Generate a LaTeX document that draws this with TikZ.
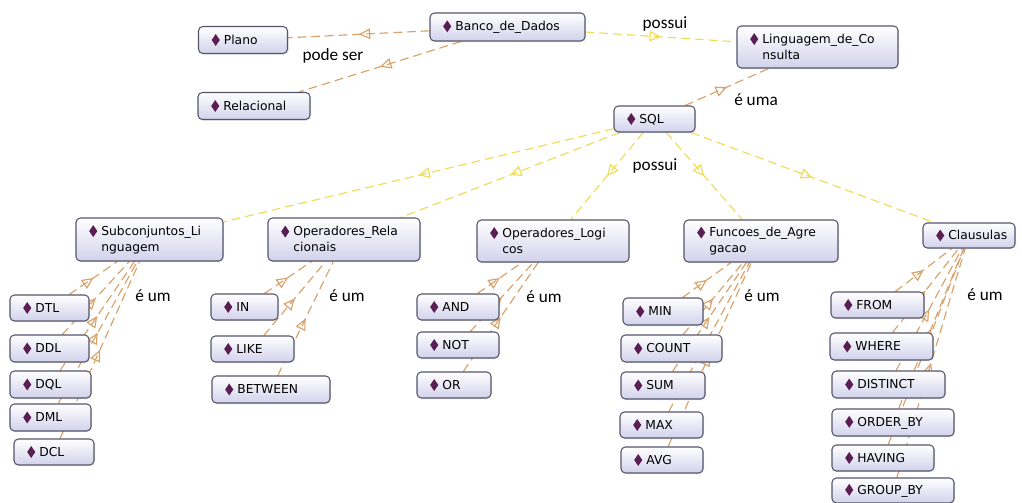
\documentclass[tikz,border=0pt]{standalone}
\usepackage{fontspec}
\usepackage{graphicx}
\usetikzlibrary{arrows.meta,decorations.markings,backgrounds,shadows}
\newfontfamily\boxfont{DejaVu Sans}
\newfontfamily\lblfont{Carlito}
\definecolor{boxline}{HTML}{55556A}
\definecolor{boxfill}{HTML}{D2D2EC}
\definecolor{dmcol}{HTML}{5A1F52}
\definecolor{isacol}{HTML}{D9A068}
\definecolor{hascol}{HTML}{EEDC58}
\newcommand\dm{\raisebox{0.1pt}{\textcolor{dmcol}{\scalebox{0.68}[1]{\rotatebox[origin=c]{45}{\rule{4.8pt}{4.8pt}}}}}}
\newcommand\ind{\phantom{\dm\ }}

\begin{document}
\begin{tikzpicture}[x=0.02cm,y=-0.02cm,
  cls/.style 2 args={draw=boxline,line width=0.6pt,rounded corners=2.5pt,top color=white,bottom color=boxfill,
    drop shadow={opacity=0.18,shadow xshift=0.6pt,shadow yshift=-0.6pt},
    minimum width=#1*0.02cm,minimum height=#2*0.02cm,text width=#1*0.02cm-15pt,inner xsep=7.5pt,
    align=left,font=\boxfont\fontsize{7}{9}\selectfont},
  midtri/.style={postaction={decorate,decoration={markings,
    mark=at position 0.5 with {\arrow[solid]{Triangle[open,length=6.5pt,width=6pt]}}}}},
  isa/.style={draw=isacol,line width=0.65pt,dash pattern=on 5pt off 2.8pt,midtri},
  has/.style={draw=hascol,line width=0.65pt,dash pattern=on 5pt off 2.8pt,midtri},
  lbl/.style={font=\lblfont\fontsize{9.8}{11}\selectfont}]
\useasboundingbox (0,0) rectangle (1022,503);

% top of the graph
\node[cls={155}{28}] (banco) at (507.5,27) {\dm\ Banco\_de\_Dados};
\node[cls={89}{27}] (plano) at (243,40) {\dm\ Plano};
\node[cls={112}{27}] (relacional) at (254,106) {\dm\ Relacional};
\node[cls={161}{42}] (linguagem) at (817.5,47) {\dm\ Linguagem\_de\_Co\\\ind nsulta};
\node[cls={81}{26}] (sql) at (654.5,119) {\dm\ SQL};

% groups below SQL
\node[cls={147}{43}] (subconj) at (149.5,239.5) {\dm\ Subconjuntos\_Li\\\ind nguagem};
\node[cls={152}{43}] (oprel) at (344,239.5) {\dm\ Operadores\_Rela\\\ind cionais};
\node[cls={152}{42}] (oplog) at (553,241) {\dm\ Operadores\_Logi\\\ind cos};
\node[cls={154}{42}] (funcoes) at (761,241) {\dm\ Funcoes\_de\_Agre\\\ind gacao};
\node[cls={92}{25}] (clausulas) at (969,235.5) {\mbox{\dm\ Clausulas}};

% leaves
\node[cls={79}{26}] (dtl) at (49.5,308) {\dm\ DTL};
\node[cls={79}{27}] (ddl) at (49.5,348.5) {\dm\ DDL};
\node[cls={81}{27}] (dql) at (50.5,384.5) {\dm\ DQL};
\node[cls={81}{27}] (dml) at (50.5,417.5) {\dm\ DML};
\node[cls={80}{26}] (dcl) at (54,452) {\dm\ DCL};

\node[cls={67}{26}] (in) at (244.5,307) {\dm\ IN};
\node[cls={83}{26}] (like) at (252.5,349) {\dm\ LIKE};
\node[cls={118}{27}] (between) at (271,389.5) {\dm\ BETWEEN};

\node[cls={82}{26}] (and) at (458,307) {\dm\ AND};
\node[cls={82}{26}] (not) at (458,345) {\dm\ NOT};
\node[cls={74}{26}] (or) at (454,385) {\dm\ OR};

\node[cls={80}{27}] (min) at (663,311.5) {\dm\ MIN};
\node[cls={101}{27}] (count) at (671.5,348.5) {\dm\ COUNT};
\node[cls={84}{27}] (sum) at (663,385.5) {\dm\ SUM};
\node[cls={83}{26}] (max) at (661.5,425) {\dm\ MAX};
\node[cls={82}{26}] (avg) at (662,460) {\dm\ AVG};

\node[cls={93}{26}] (from) at (877.5,305) {\dm\ FROM};
\node[cls={103}{27}] (where) at (881.5,346.5) {\dm\ WHERE};
\node[cls={113}{27}] (distinct) at (888.5,384.5) {\dm\ DISTINCT};
\node[cls={122}{27}] (orderby) at (893,422.5) {\dm\ ORDER\_BY};
\node[cls={102}{26}] (having) at (883,458) {\dm\ HAVING};
\node[cls={122}{24}] (groupby) at (893,490.5) {\dm\ GROUP\_BY};

% relation labels
\node[lbl] (podeser) at (333,56) {pode ser};
\node[lbl] (possuitop) at (665,24) {possui};
\node[lbl] (euma) at (756,100) {é uma};
\node[lbl] (possuisql) at (655,166) {possui};
\node[lbl] (eumsub) at (153,296) {é um};
\node[lbl] (eumrel) at (347,296) {é um};
\node[lbl] (eumlog) at (544,297) {é um};
\node[lbl] (eumfun) at (762,296) {é um};
\node[lbl] (eumcla) at (985,295) {é um};

\begin{scope}[on background layer]
\draw[isa] (banco) -- (plano);
\draw[isa] (banco) -- (relacional);
\draw[has] (banco) -- (linguagem);
\draw[isa] (sql) -- (linguagem);
\foreach \g in {subconj,oprel,oplog,funcoes,clausulas}
  \draw[has] (sql) -- (\g);
\foreach \c in {dtl,ddl,dql,dml,dcl}
  \draw[isa] (\c) -- (subconj);
\foreach \c in {in,like,between}
  \draw[isa] (\c) -- (oprel);
\foreach \c in {and,not,or}
  \draw[isa] (\c) -- (oplog);
\foreach \c in {min,count,sum,max,avg}
  \draw[isa] (\c) -- (funcoes);
\foreach \c in {from,where,distinct,orderby,having,groupby}
  \draw[isa] (\c) -- (clausulas);
\end{scope}
\end{tikzpicture}
\end{document}
